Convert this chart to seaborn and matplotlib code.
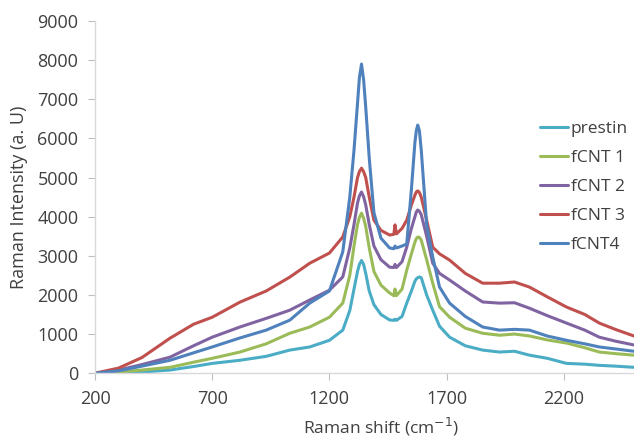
import numpy as np
import pandas as pd
import matplotlib
matplotlib.use("Agg")
import matplotlib.pyplot as plt
import seaborn as sns

# Raman shift grid (cm-1) shared by every spectrum
shift = [200, 300, 400, 520, 620, 700, 818, 930, 1031, 1116, 1200, 1257, 1287, 1305,
         1320, 1328, 1337, 1346, 1355, 1370, 1390, 1420, 1457, 1475, 1480, 1486, 1510,
         1530, 1550, 1565, 1571, 1577, 1584, 1592, 1615, 1641, 1670, 1713, 1780, 1854,
         1926, 1990, 2054, 2130, 2212, 2290, 2352, 2420, 2500]

prestin = [0, 10, 30, 80, 170, 250, 330, 430, 590, 670, 840, 1100, 1600, 2150,
           2600, 2780, 2880, 2780, 2550, 2100, 1750, 1500, 1360, 1350, 1380, 1350, 1450,
           1790, 2100, 2350, 2410, 2440, 2460, 2440, 2000, 1610, 1200, 920, 700, 590,
           540, 560, 460, 380, 250, 230, 200, 180, 150]

fcnt1 = [0, 30, 80, 150, 280, 380, 540, 750, 1020, 1180, 1430, 1790, 2500, 3250,
         3800, 3980, 4090, 3960, 3750, 3200, 2600, 2250, 2050, 1980, 2150, 1980, 2150,
         2630, 3050, 3350, 3440, 3480, 3470, 3400, 2900, 2300, 1700, 1430, 1150, 1020,
         970, 1000, 950, 850, 770, 650, 540, 500, 460]

fcnt2 = [0, 80, 220, 410, 700, 920, 1180, 1400, 1610, 1870, 2120, 2460, 3200, 3800,
         4350, 4530, 4630, 4510, 4300, 3800, 3250, 2900, 2710, 2700, 2780, 2700, 2850,
         3220, 3700, 4000, 4120, 4170, 4140, 4050, 3500, 2810, 2550, 2380, 2100, 1820,
         1790, 1800, 1660, 1470, 1280, 1100, 920, 820, 720]

fcnt3 = [0, 130, 400, 895, 1250, 1430, 1815, 2100, 2455, 2810, 3070, 3480, 4000, 4500,
         5000, 5150, 5240, 5150, 5000, 4500, 3910, 3650, 3530, 3550, 3790, 3560, 3700,
         3910, 4300, 4550, 4630, 4660, 4620, 4500, 3910, 3220, 3050, 2890, 2550, 2300,
         2300, 2330, 2200, 1950, 1690, 1500, 1280, 1120, 950]

fcnt4 = [0, 60, 180, 330, 520, 670, 900, 1100, 1355, 1790, 2100, 3100, 4500, 5700,
         6900, 7550, 7900, 7500, 6800, 5500, 4100, 3450, 3200, 3180, 3250, 3200, 3250,
         3300, 4700, 5900, 6200, 6340, 6200, 5700, 3800, 2970, 2200, 1790, 1450, 1180,
         1100, 1120, 1100, 950, 840, 750, 670, 620, 560]

labels = ["prestin", "fCNT 1", "fCNT 2", "fCNT 3", "fCNT4"]
colors = ["#4BACC6", "#9BBB59", "#8064A2", "#C0504D", "#4F81BD"]

df = pd.DataFrame({"shift": shift, labels[0]: prestin, labels[1]: fcnt1,
                   labels[2]: fcnt2, labels[3]: fcnt3, labels[4]: fcnt4})
long_df = df.melt(id_vars="shift", var_name="sample", value_name="intensity")

sns.set_style("white")
plt.rcParams["font.family"] = ["Open Sans", "DejaVu Sans"]

fig = plt.figure(figsize=(6.34, 4.38), dpi=100)
ax = fig.add_axes([0.150, 0.148, 0.850, 0.804])

sns.lineplot(data=long_df, x="shift", y="intensity", hue="sample",
             hue_order=labels, palette=colors, linewidth=2.2, ax=ax)

ax.set_xlim(200, 2500)
ax.set_ylim(0, 9000)
ax.set_xticks([200, 700, 1200, 1700, 2200])
ax.set_yticks(range(0, 9001, 1000))
ax.tick_params(axis="both", labelsize=13, length=5, pad=7,
               width=0.8, direction="out", bottom=True, left=True)
ax.tick_params(colors="#bfbfbf", labelcolor="#404040")
for side in ["top", "right"]:
    ax.spines[side].set_visible(False)
for side in ["left", "bottom"]:
    ax.spines[side].set_color("#d9d9d9")
    ax.spines[side].set_linewidth(1)

ax.set_xlabel("Raman shift (cm$^{-1}$)", fontsize=12.5, color="#404040")
ax.set_ylabel("Raman Intensity (a. U)", fontsize=13, color="#404040")
ax.xaxis.set_label_coords(0.53, -0.12)
ax.yaxis.set_label_coords(-0.124, 0.5)

ax.legend(frameon=False, loc="upper left", bbox_to_anchor=(0.852, 0.724),
          bbox_transform=fig.transFigure, fontsize=12.5, handlelength=1.6,
          handletextpad=0.17, labelspacing=0.74, borderpad=0, borderaxespad=0,
          labelcolor="#404040")

fig.savefig("out.png", dpi=100)
plt.close(fig)
